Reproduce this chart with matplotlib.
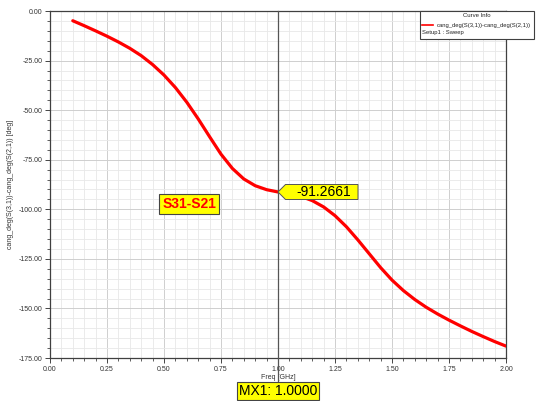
import numpy as np
import matplotlib
matplotlib.use("Agg")
import matplotlib.pyplot as plt
import matplotlib.transforms as mtransforms
from matplotlib.patches import Polygon, Rectangle
from matplotlib.lines import Line2D

# Phase difference S31-S21
freq = [0.10, 0.15, 0.20, 0.25, 0.30, 0.35, 0.40, 0.45, 0.50, 0.55,
        0.60, 0.65, 0.70, 0.75, 0.80, 0.85, 0.90, 0.95, 1.00, 1.05,
        1.10, 1.15, 1.20, 1.25, 1.30, 1.35, 1.40, 1.45, 1.50, 1.55,
        1.60, 1.65, 1.70, 1.75, 1.80, 1.85, 1.90, 1.95, 2.00]
phase = [-4.9, -7.4, -10.0, -12.7, -15.6, -18.8, -22.5, -27.0, -32.3, -38.6,
         -46.0, -54.4, -63.4, -72.2, -79.4, -84.7, -88.1, -90.1, -91.2661, -92.2,
         -93.5, -95.6, -98.8, -103.2, -108.8, -115.4, -122.4, -129.4, -135.7, -141.0,
         -145.5, -149.4, -152.8, -155.9, -158.8, -161.6, -164.2, -166.7, -169.0]

marker_x = 1.0
marker_y = -91.2661
xticks = [0.0, 0.25, 0.5, 0.75, 1.0, 1.25, 1.5, 1.75, 2.0]
yticks = [0.0, -25.0, -50.0, -75.0, -100.0, -125.0, -150.0, -175.0]

plt.rcParams['font.family'] = ['Liberation Sans', 'DejaVu Sans']

fig = plt.figure(figsize=(5.37, 4.01), dpi=100)
ax = fig.add_axes([0.0931, 0.1072, 0.8492, 0.8653])

# grid
ax.set_xticks(np.arange(0, 2.0001, 0.05), minor=True)
ax.set_yticks(np.arange(-175, 0.001, 5), minor=True)
ax.set_xticks(xticks)
ax.set_yticks(yticks)
ax.grid(which='minor', color='#e8e8e8', lw=0.6)
ax.grid(which='major', color='#cfcfcf', lw=0.7)
ax.set_axisbelow(True)

ax.plot(freq, phase, color='#ff0000', lw=2.3, solid_capstyle='round', solid_joinstyle='round', zorder=3)

ax.set_xlim(0, 2.0)
ax.set_ylim(-175, 0)
ax.set_xticklabels(["%.2f" % v for v in xticks])
ax.set_yticklabels(["%.2f" % v for v in yticks])
ax.tick_params(which='both', direction='out', labelsize=5, labelcolor='#333333', color='#444444')
ax.tick_params(which='major', length=3.5, width=0.7, pad=2)
ax.tick_params(which='minor', length=2.5, width=0.6)
for s in ax.spines.values():
    s.set_color('#404040')
    s.set_linewidth(0.9)

ax.set_xlabel("Freq [GHz]", fontsize=5, color='#333333', labelpad=1)
ax.set_ylabel("cang_deg(S(3,1))-cang_deg(S(2,1)) [deg]", fontsize=5, color='#333333', labelpad=3)

# marker line
ax.axvline(marker_x, ymin=-0.068, ymax=1, color='#555555', lw=0.9, clip_on=False, zorder=4)

# marker value flag
trans = fig.dpi_scale_trans + mtransforms.ScaledTranslation(marker_x, marker_y, ax.transData)
flag = Polygon([[0, 0], [0.075, 0.075], [0.80, 0.075], [0.80, -0.075], [0.075, -0.075]],
               closed=True, transform=trans, facecolor='#ffff00', edgecolor='#555555',
               lw=0.7, zorder=6, clip_on=False)
ax.add_patch(flag)
ax.text(0.46, 0.0, "%.4f" % marker_y, transform=trans, ha='center', va='center',
        fontsize=10, color='black', zorder=7)

# trace name label
ax.text(0.61, -97.2, "S31-S21", ha='center', va='center', fontsize=10, fontweight='bold',
        color='#ff0000', zorder=7,
        bbox=dict(boxstyle='square,pad=0.2', facecolor='#ffff00', edgecolor='#444444', lw=0.8))

# marker x label
ax.annotate("MX1: %.4f" % marker_x, xy=(marker_x, 0), xycoords=('data', 'axes fraction'),
            xytext=(0, -23.5), textcoords='offset points', ha='center', va='center',
            fontsize=10, color='black', zorder=7, annotation_clip=False,
            bbox=dict(boxstyle='square,pad=0.15', facecolor='#ffff00', edgecolor='#444444', lw=0.8))

# curve info box
W, H = 537.0, 401.0
fig.patches.append(Rectangle((420 / W, 1 - 38.5 / H), 114 / W, 27.5 / H, transform=fig.transFigure,
                             facecolor='white', edgecolor='#404040', lw=0.8, zorder=5))
fig.text(477 / W, 1 - 15.5 / H, "Curve Info", fontsize=4.3, ha='center', va='center', color='#222222', zorder=6)
fig.lines.append(Line2D([422 / W, 433 / W], [1 - 25 / H, 1 - 25 / H], transform=fig.transFigure,
                        color='#ff0000', lw=1.2, zorder=6))
fig.text(437 / W, 1 - 25 / H, "cang_deg(S(3,1))-cang_deg(S(2,1))", fontsize=4.2, ha='left', va='center',
         color='#222222', zorder=6)
fig.text(421.5 / W, 1 - 32.5 / H, "Setup1 : Sweep", fontsize=4.2, ha='left', va='center',
         color='#222222', zorder=6)

fig.savefig("out.png", dpi=100)
